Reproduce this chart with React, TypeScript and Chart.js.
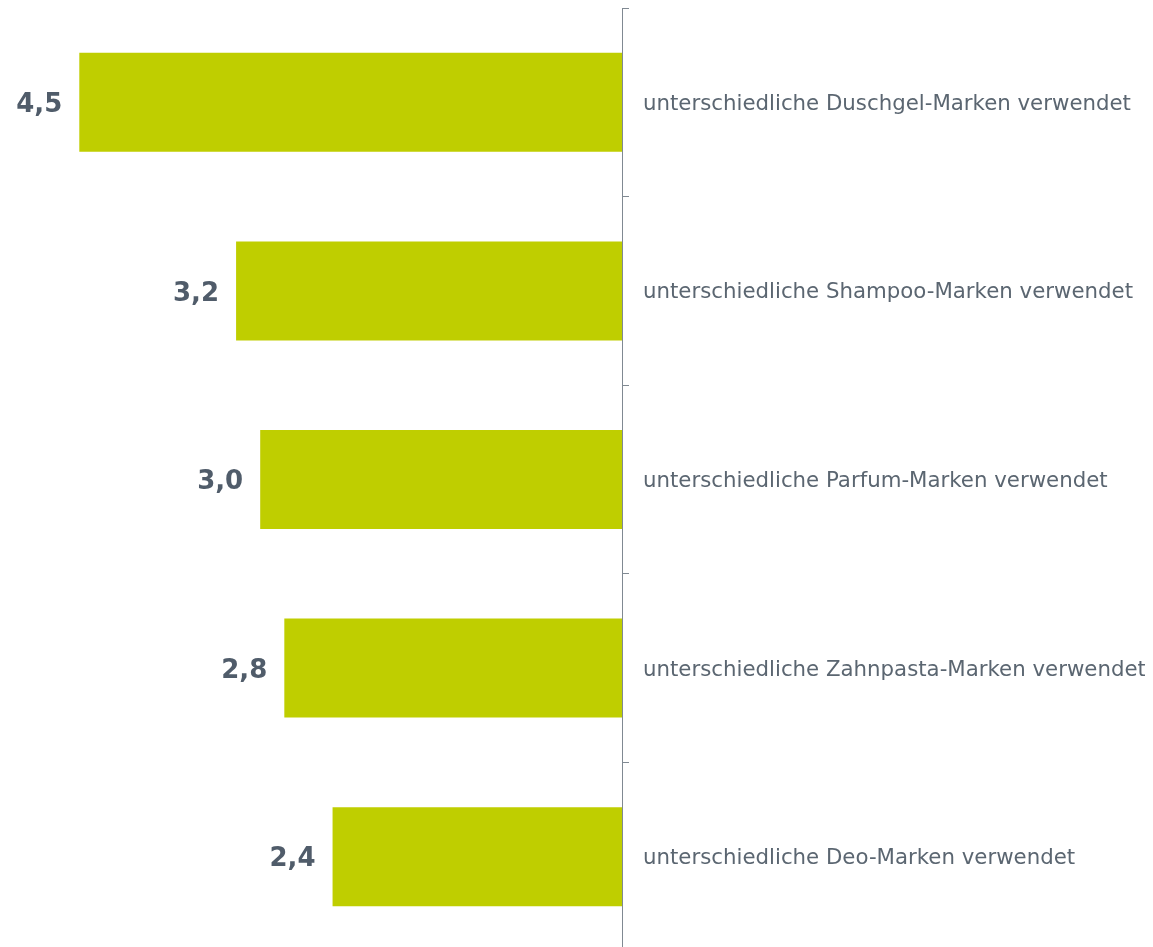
import React, { useEffect, useRef } from "react";
import { Chart, registerables } from "chart.js";

Chart.register(...registerables);

const categories = [
  "unterschiedliche Duschgel-Marken verwendet",
  "unterschiedliche Shampoo-Marken verwendet",
  "unterschiedliche Parfum-Marken verwendet",
  "unterschiedliche Zahnpasta-Marken verwendet",
  "unterschiedliche Deo-Marken verwendet",
];
const values = [4.5, 3.2, 3.0, 2.8, 2.4];

const BAR = "#bfce00";
const LABEL = "#5b6671";
const VALUE = "#505c6a";
const AXIS = "#808992";
const FONT = "'DejaVu Sans', Verdana, sans-serif";

const labelsPlugin = {
  id: "labelsPlugin",
  afterDatasetsDraw(chart: any) {
    const ctx = chart.ctx;
    const meta = chart.getDatasetMeta(0);
    const yScale = chart.scales.y;
    ctx.save();
    ctx.textBaseline = "middle";
    // value labels left of bars
    ctx.font = "bold 26px " + FONT;
    ctx.fillStyle = VALUE;
    ctx.textAlign = "right";
    meta.data.forEach((el: any, i: number) => {
      const left = Math.min(el.x, el.base);
      ctx.fillText(values[i].toFixed(1).replace(".", ","), left - 17, el.y + 3);
    });
    // category labels right of axis
    ctx.font = "21.3px " + FONT;
    ctx.fillStyle = LABEL;
    ctx.textAlign = "left";
    categories.forEach((c, i) => {
      const y = yScale.getPixelForValue(i);
      ctx.fillText(c, chart.chartArea.right + 21, y + 2);
    });
    ctx.restore();
  },
};

export default function App() {
  const ref = useRef<HTMLCanvasElement | null>(null);
  useEffect(() => {
    if (!ref.current) return;
    const chart = new Chart(ref.current, {
      type: "bar",
      data: {
        labels: categories,
        datasets: [
          {
            data: values,
            backgroundColor: BAR,
            borderWidth: 0,
            categoryPercentage: 1,
            barPercentage: 0.525,
          },
        ],
      },
      options: {
        indexAxis: "y",
        responsive: false,
        animation: false,
        layout: { padding: { left: 11, top: 0, right: 0, bottom: 0 } },
        plugins: { legend: { display: false }, tooltip: { enabled: false } },
        scales: {
          x: {
            display: false,
            reverse: true,
            min: 0,
            max: 5,
          },
          y: {
            position: "right",
            grid: {
              drawOnChartArea: false,
              drawTicks: true,
              tickLength: 7,
              color: AXIS,
              lineWidth: 1,
            },
            border: { display: true, color: AXIS, width: 1 },
            ticks: { display: false },
            afterFit(scale: any) {
              scale.width = 523;
              scale.paddingTop = 0;
              scale.paddingBottom = 0;
            },
          },
        },
      },
      plugins: [labelsPlugin],
    });
    return () => chart.destroy();
  }, []);
  return <canvas ref={ref} width={1137} height={943} style={{ display: "block" }} />;
}
